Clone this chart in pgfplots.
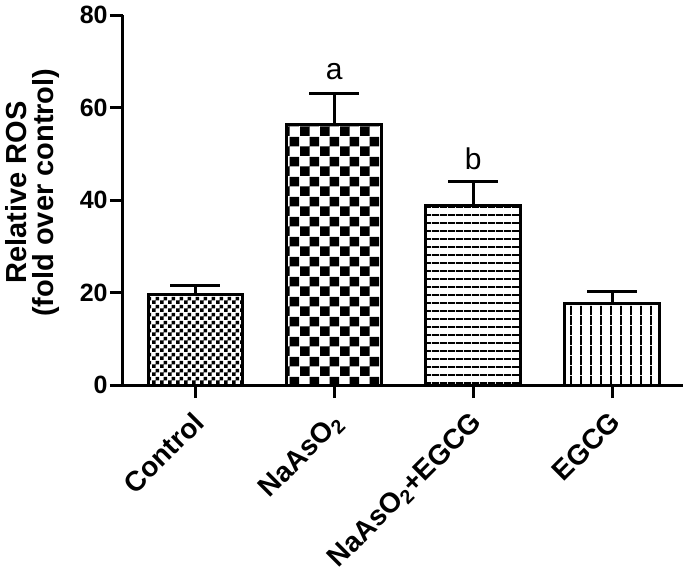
\documentclass[border=0pt]{standalone}
\usepackage{fontspec}
\setmainfont{Liberation Sans}
\usepackage{pgfplots}
\pgfplotsset{compat=1.18}
\usetikzlibrary{patterns.meta}

% bar fills, sized from the scan (1px ~ 0.5pt)
\tikzdeclarepattern{
  name=finecheck, type=uncolored,
  bounding box={(0,0) and (4pt,4pt)}, tile size={(4pt,4pt)},
  code={
    \pgfpathrectangle{\pgfpointorigin}{\pgfpoint{2pt}{2pt}}
    \pgfpathrectangle{\pgfpoint{2pt}{2pt}}{\pgfpoint{2pt}{2pt}}
    \pgfusepath{fill}
  }
}
\tikzdeclarepattern{
  name=bigcheck, type=uncolored,
  bounding box={(0,0) and (10pt,10pt)}, tile size={(10pt,10pt)},
  code={
    \pgfpathrectangle{\pgfpointorigin}{\pgfpoint{5pt}{5pt}}
    \pgfpathrectangle{\pgfpoint{5pt}{5pt}}{\pgfpoint{5pt}{5pt}}
    \pgfusepath{fill}
  }
}
\tikzdeclarepattern{
  name=hlines, type=uncolored,
  bounding box={(0,0) and (4pt,4pt)}, tile size={(4pt,4pt)},
  code={
    \pgfpathrectangle{\pgfpointorigin}{\pgfpoint{4pt}{1pt}}
    \pgfusepath{fill}
  }
}
\tikzdeclarepattern{
  name=vlines, type=uncolored,
  bounding box={(0,0) and (4.75pt,4.75pt)}, tile size={(4.75pt,4.75pt)},
  code={
    \pgfpathrectangle{\pgfpointorigin}{\pgfpoint{1pt}{4.75pt}}
    \pgfusepath{fill}
  }
}

\pgfplotsset{
  roserr/.style={
    error bars/y dir=plus, error bars/y explicit,
    error bars/error bar style={line width=1.5pt, black},
    error bars/error mark options={rotate=90, line width=1.5pt, mark size=12.5pt, black},
  },
}

\begin{document}
\begin{tikzpicture}
  \path[use as bounding box] (-61.5pt,-95pt) rectangle (283.5pt,192.5pt);
  \begin{axis}[
    scale only axis, width=280pt, height=185pt,
    xmin=-0.52, xmax=3.51, ymin=0, ymax=80,
    axis x line=bottom, axis y line=left,
    axis line style={-, line width=1.5pt},
    tick align=outside, major tick length=6.5pt,
    tick style={line width=1.5pt, black},
    ytick={0,20,40,60,80},
    xtick={0,1,2,3},
    xticklabels={Control, NaAsO\textsubscript{2}, NaAsO\textsubscript{2}+EGCG, EGCG},
    /pgf/number format/assume math mode=true,
    yticklabel style={font=\fontsize{12.5}{14}\selectfont\bfseries, inner sep=1pt},
    xticklabel style={font=\fontsize{14}{16}\selectfont\bfseries,
      rotate=45, anchor=north east, inner sep=0pt, xshift=-5.5pt, yshift=-2.8pt},
    ylabel={Relative ROS\\(fold over control)},
    ylabel style={font=\fontsize{14.5}{13.5}\selectfont\bfseries, align=center,
      at={(axis description cs:-0.161,0.52)}, anchor=center},
    ybar, bar width=0.68, bar shift=0pt,
  ]
    \addplot[draw=black, line width=1.5pt, pattern=finecheck, roserr]
      coordinates {(0,19.5) +- (0,2.1)};
    \addplot[draw=black, line width=1.5pt, pattern=bigcheck, roserr]
      coordinates {(1,56.3) +- (0,6.8)};
    \addplot[draw=black, line width=1.5pt, pattern=hlines, roserr]
      coordinates {(2,38.9) +- (0,5.0)};
    \addplot[draw=black, line width=1.5pt, pattern=vlines, roserr]
      coordinates {(3,17.7) +- (0,2.6)};
    \node[font=\fontsize{15}{16}\selectfont, anchor=base] at (axis cs:1,66) {a};
    \node[font=\fontsize{15}{16}\selectfont, anchor=base] at (axis cs:2,46.5) {b};
  \end{axis}
\end{tikzpicture}
\end{document}
